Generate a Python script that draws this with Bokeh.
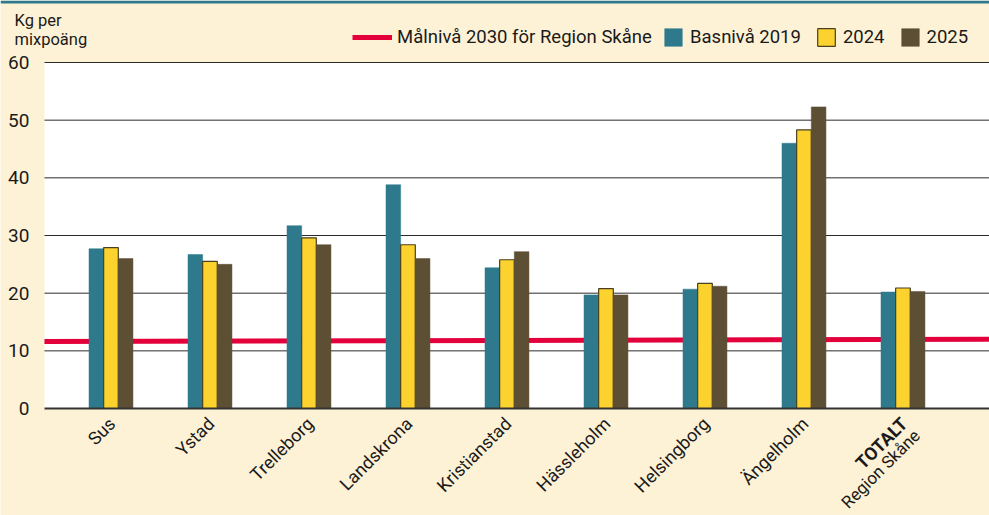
from bokeh.plotting import figure
from bokeh.models import (Legend, LegendItem, Label, FixedTicker, BoxAnnotation, Range1d)
from bokeh.embed import file_html
from bokeh.resources import INLINE

# ---- data ----
categories = ["Sus", "Ystad", "Trelleborg", "Landskrona", "Kristianstad",
              "Hässleholm", "Helsingborg", "Ängelholm", "TOTALT\nRegion Skåne"]
base_2019 = [27.7, 26.7, 31.7, 38.8, 24.4, 19.7, 20.7, 46.0, 20.2]
val_2024 = [27.9, 25.5, 29.6, 28.4, 25.8, 20.8, 21.7, 48.3, 20.9]
val_2025 = [26.0, 25.0, 28.4, 26.0, 27.2, 19.7, 21.2, 52.3, 20.3]
target_2030 = [11.6, 12.0]          # level of the target line at its left and right end
y_ticks = [0, 10, 20, 30, 40, 50, 60]
series_names = ["Basnivå 2019", "2024", "2025"]
target_name = "Målnivå 2030 för Region Skåne"
y_title = "Kg per\nmixpoäng"

# ---- style / layout ----
TEAL = "#2E7A8C"
YELLOW = "#FCD22E"
BROWN = "#5C4F34"
RED = "#E4003B"
CREAM = "#FEF2D6"
TEXT = "#1a1a1a"
FONT = "Roboto"

W, H = 989, 515
x_start, x_end = -1.116, 8.874      # whole canvas in data units
y_start, y_end = -18.55, 70.75
plot_left = -0.672                   # left edge of the white plotting area
y_top = 60
bar_w = 0.148
px_per_y = H / (y_end - y_start)

p = figure(width=W, height=H, output_backend="svg", toolbar_location=None,
           x_range=Range1d(x_start, x_end), y_range=Range1d(y_start, y_end),
           min_border=0)
p.background_fill_color = CREAM
p.border_fill_color = CREAM
p.outline_line_color = None
p.xgrid.visible = False
p.ygrid.visible = False

idx = list(range(len(categories)))

# white plotting area
p.quad(left=[plot_left], right=[x_end], bottom=[0], top=[y_top],
       fill_color="white", line_color=None)

# grid lines
p.segment(x0=[plot_left] * (len(y_ticks) - 1), x1=[x_end] * (len(y_ticks) - 1),
          y0=y_ticks[1:], y1=y_ticks[1:], line_color="#2b2b2b", line_width=1)

# target line (behind bars)
tline = p.line(x=[plot_left, x_end], y=target_2030, line_color=RED, line_width=5)

r1 = p.vbar(x=[i - bar_w for i in idx], top=base_2019, width=bar_w,
            fill_color=TEAL, line_color=TEAL, line_width=0.5)
r2 = p.vbar(x=idx, top=val_2024, width=bar_w,
            fill_color=YELLOW, line_color="#4a3f1e", line_width=1.2)
r3 = p.vbar(x=[i + bar_w for i in idx], top=val_2025, width=bar_w,
            fill_color=BROWN, line_color=BROWN, line_width=0.5)

# axes (drawn at fixed locations inside the canvas)
yax = p.yaxis[0]
yax.fixed_location = plot_left
yax.ticker = FixedTicker(ticks=y_ticks)
yax.axis_line_color = None
yax.major_tick_line_color = None
yax.minor_tick_line_color = None
yax.major_label_text_font = FONT
yax.major_label_text_font_size = "19px"
yax.major_label_text_color = TEXT
yax.major_label_standoff = 9

xax = p.xaxis[0]
xax.fixed_location = 0
xax.bounds = (plot_left, x_end)
xax.ticker = FixedTicker(ticks=[])
xax.axis_line_color = "#333333"
xax.axis_line_width = 2
xax.major_tick_line_color = None
xax.minor_tick_line_color = None

# x category labels
for i, cat in enumerate(categories):
    parts = cat.split("\n")
    bold = len(parts) > 1
    p.add_layout(Label(x=i, y=0, x_offset=1, y_offset=-12, text=parts[0],
                       angle=45, angle_units="deg", text_align="right",
                       text_baseline="middle", text_font=FONT,
                       text_font_style="bold" if bold else "normal",
                       text_font_size="18px", text_color=TEXT))
    if bold:
        p.add_layout(Label(x=i, y=0, x_offset=14, y_offset=-24, text=parts[1],
                           angle=45, angle_units="deg", text_align="right",
                           text_baseline="middle", text_font=FONT,
                           text_font_size="17px", text_color=TEXT))

# y title
p.add_layout(Label(x=14, y=H - 10, x_units="screen", y_units="screen", text=y_title,
                   text_align="left", text_baseline="top", text_font=FONT,
                   text_font_size="16.5px", text_color=TEXT, text_line_height=1.05))

# legends
leg1 = Legend(items=[LegendItem(label=target_name, renderers=[tline])],
              location=(352, H - 48), orientation="horizontal",
              glyph_width=40, glyph_height=22, label_standoff=5,
              padding=0, margin=0, spacing=0,
              background_fill_alpha=0, border_line_color=None,
              label_text_font=FONT, label_text_font_size="18.5px",
              label_text_color=TEXT)
leg2 = Legend(items=[LegendItem(label=series_names[0], renderers=[r1]),
                     LegendItem(label=series_names[1], renderers=[r2]),
                     LegendItem(label=series_names[2], renderers=[r3])],
              location=(662, H - 48), orientation="horizontal",
              glyph_width=22, glyph_height=22, label_standoff=6,
              padding=0, margin=0, spacing=14,
              background_fill_alpha=0, border_line_color=None,
              label_text_font=FONT, label_text_font_size="18.5px",
              label_text_color=TEXT)
p.add_layout(leg1, "center")
p.add_layout(leg2, "center")

# teal stripe along the top edge
p.add_layout(BoxAnnotation(bottom=y_end - 3 / px_per_y, fill_color=TEAL,
                           fill_alpha=1, line_alpha=0))

open("out.html", "w").write(file_html(p, INLINE))
